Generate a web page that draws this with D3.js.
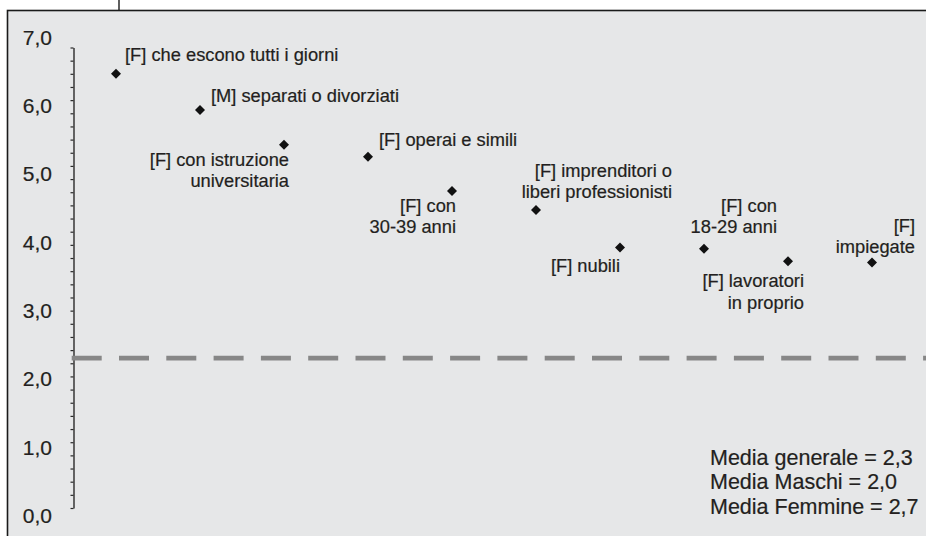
<!DOCTYPE html>
<html>
<head>
<meta charset="utf-8">
<script src="https://cdn.jsdelivr.net/npm/d3@7"></script>
<style>
  html, body { margin: 0; padding: 0; background: #ffffff; }
  svg { display: block; }
  text { font-family: "Liberation Sans", Arial, Helvetica, sans-serif; fill: #231f20; stroke: #231f20; stroke-width: 0.2px; }
</style>
</head>
<body>
<svg id="chart" width="926" height="536"></svg>
<script>
// ---- data ----
const categories = [
  "[F] che escono tutti i giorni",
  "[M] separati o divorziati",
  "[F] con istruzione universitaria",
  "[F] operai e simili",
  "[F] con 30-39 anni",
  "[F] imprenditori o liberi professionisti",
  "[F] nubili",
  "[F] con 18-29 anni",
  "[F] lavoratori in proprio",
  "[F] impiegate"
];
const values = [6.6, 6.05, 5.52, 5.34, 4.82, 4.53, 3.96, 3.94, 3.75, 3.73];
const labelLines = [
  ["[F] che escono tutti i giorni"],
  ["[M] separati o divorziati"],
  ["[F] con istruzione", "universitaria"],
  ["[F] operai e simili"],
  ["[F] con", "30-39 anni"],
  ["[F] imprenditori o", "liberi professionisti"],
  ["[F] nubili"],
  ["[F] con", "18-29 anni"],
  ["[F] lavoratori", "in proprio"],
  ["[F]", "impiegate"]
];
const yTickLabels = ["0,0", "1,0", "2,0", "3,0", "4,0", "5,0", "6,0", "7,0"];
const mediaGenerale = 2.3;
const noteLines = ["Media generale = 2,3", "Media Maschi = 2,0", "Media Femmine = 2,7"];

// ---- layout (label placement relative to its point) ----
const labelLayout = [
  {anchor: "start", dx: 9,  dy: -13},
  {anchor: "start", dx: 11, dy: -8},
  {anchor: "end",   dx: 5,  dy: 21},
  {anchor: "start", dx: 11, dy: -11},
  {anchor: "end",   dx: 4,  dy: 21},
  {anchor: "end",   dx: 136, dy: -33},
  {anchor: "end",   dx: 0,  dy: 25},
  {anchor: "end",   dx: 73, dy: -37},
  {anchor: "end",   dx: 16, dy: 26},
  {anchor: "end",   dx: 43, dy: -31}
];

const svg = d3.select("#chart");
const W = 926, H = 536;

// panel background & frame
svg.append("rect")
  .attr("x", 7.5).attr("y", 10.5)
  .attr("width", W + 10).attr("height", H + 10)
  .attr("fill", "#e6e7e8")
  .attr("stroke", "#1a1a1a").attr("stroke-width", 1.6);
svg.append("line")
  .attr("x1", 119).attr("x2", 119).attr("y1", 0).attr("y2", 10)
  .attr("stroke", "#1a1a1a").attr("stroke-width", 1.4);

// scales
const y = d3.scaleLinear().domain([0, 7]).range([508, 47.5]);
const yLab = d3.scaleLinear().domain([0, 7]).range([523, 44.5]);
const x = d3.scalePoint().domain(categories).range([116, 872]);

// axis with minor ticks
const axisX = 73.5;
const axis = d3.axisLeft(y)
  .tickValues(d3.range(0, 36).map(i => +(i * 0.2).toFixed(1)))
  .tickSize(3)
  .tickSizeOuter(0)
  .tickFormat("");
const gAxis = svg.append("g").attr("transform", `translate(${axisX},0)`).call(axis);
gAxis.select(".domain").attr("stroke", "#2a2a2a").attr("stroke-width", 1.4);
gAxis.selectAll(".tick line").attr("stroke", "#2a2a2a").attr("stroke-width", 1.2);

// y tick labels
svg.append("g").selectAll("text")
  .data(yTickLabels)
  .join("text")
  .attr("x", 52)
  .attr("y", (d, i) => yLab(i))
  .attr("text-anchor", "end")
  .attr("font-size", 21)
  .text(d => d);

// dashed average line
svg.append("line")
  .attr("x1", axisX - 1.8).attr("x2", W)
  .attr("y1", y(mediaGenerale) + 1.5).attr("y2", y(mediaGenerale) + 1.5)
  .attr("stroke", "#878787").attr("stroke-width", 4.8)
  .attr("stroke-dasharray", "30,17.3");

// points
const sym = d3.symbol().type(d3.symbolSquare).size(50);
svg.append("g").selectAll("path")
  .data(values)
  .join("path")
  .attr("d", sym)
  .attr("transform", (d, i) => `translate(${x(categories[i])},${y(d)}) rotate(45)`)
  .attr("fill", "#111");

// labels
const gLab = svg.append("g");
values.forEach((v, i) => {
  const L = labelLayout[i];
  const t = gLab.append("text")
    .attr("text-anchor", L.anchor)
    .attr("font-size", 18.3)
    .attr("x", x(categories[i]) + L.dx)
    .attr("y", y(v) + L.dy);
  labelLines[i].forEach((line, j) => {
    t.append("tspan")
      .attr("x", x(categories[i]) + L.dx)
      .attr("dy", j === 0 ? 0 : 21.3)
      .text(line);
  });
});

// note
svg.append("g").selectAll("text")
  .data(noteLines)
  .join("text")
  .attr("x", 710)
  .attr("y", (d, i) => 464.5 + i * 24.5)
  .attr("font-size", 21.5)
  .text(d => d);
</script>
</body>
</html>
